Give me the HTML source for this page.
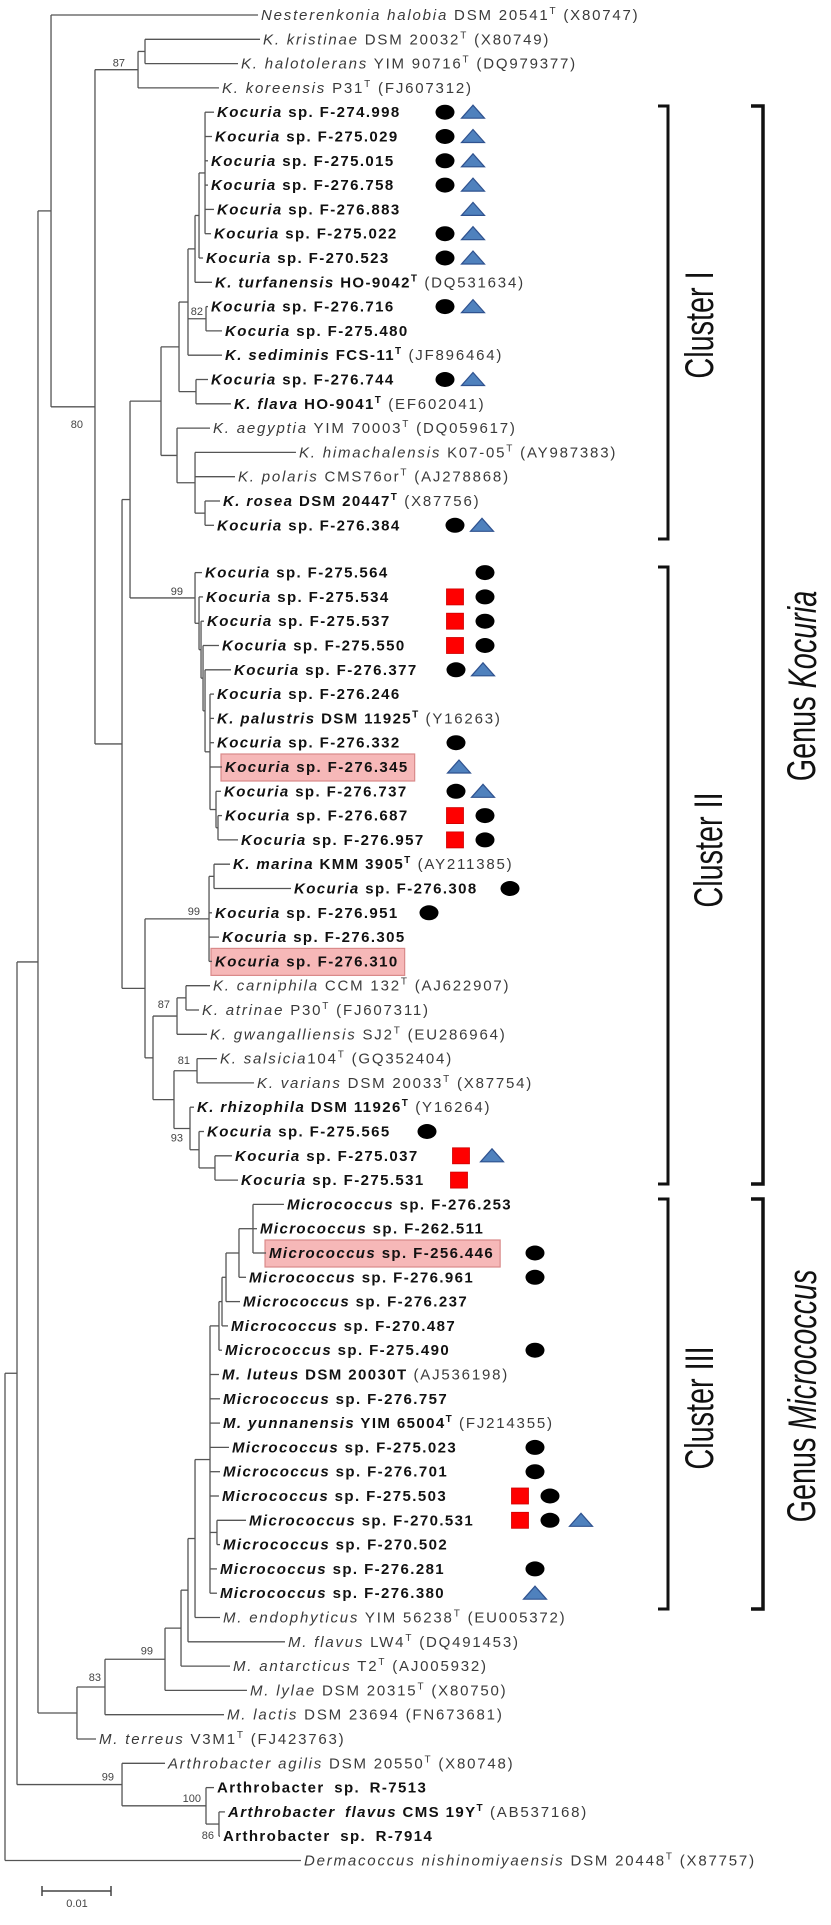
<!DOCTYPE html>
<html><head><meta charset="utf-8"><title>Phylogenetic tree</title>
<style>
html,body{margin:0;padding:0;background:#fff;}
svg{display:block;font-family:"Liberation Sans",Arial,sans-serif;}
.lf{font-size:15px;letter-spacing:1.4px;}
.b{font-weight:bold;fill:#111;}
.r{font-weight:normal;fill:#3a3a3a;letter-spacing:1.8px;}
.bs{font-size:11px;fill:#444;}
.br{stroke:#555;stroke-width:1.3;fill:none;}
</style></head>
<body>
<svg id="tree" xmlns="http://www.w3.org/2000/svg" width="831" height="1925" viewBox="0 0 831 1925">
<rect width="831" height="1925" fill="#fff"/>
<g id="boxes"></g><g id="branches"></g><g id="labels"></g><g id="marks"></g>
<g fill="none" stroke="#111">
 <path d="M658 106 H668 V539 H658" stroke-width="3"/>
 <path d="M658 567 H668 V1184 H658" stroke-width="3"/>
 <path d="M658 1199 H668 V1609 H658" stroke-width="3"/>
 <path d="M751 106 H763 V1184 H751" stroke-width="3.5"/>
 <path d="M751 1199 H763 V1609 H751" stroke-width="3.5"/>
</g>
<g fill="#111" font-size="40">
 <text transform="translate(700,325) rotate(-90) scale(0.72,1)" text-anchor="middle" dominant-baseline="central">Cluster I</text>
 <text transform="translate(709,850) rotate(-90) scale(0.72,1)" text-anchor="middle" dominant-baseline="central">Cluster II</text>
 <text transform="translate(700,1408) rotate(-90) scale(0.72,1)" text-anchor="middle" dominant-baseline="central">Cluster III</text>
 <text transform="translate(802,686) rotate(-90) scale(0.72,1)" text-anchor="middle" dominant-baseline="central">Genus <tspan font-style="italic">Kocuria</tspan></text>
 <text transform="translate(802,1396) rotate(-90) scale(0.72,1)" text-anchor="middle" dominant-baseline="central">Genus <tspan font-style="italic">Micrococcus</tspan></text>
</g>
<g>
 <path d="M42 1891 H111 M42 1886 V1896 M111 1886 V1896" stroke="#444" stroke-width="1.5" fill="none"/>
 <text x="77" y="1907" font-size="11" fill="#444" text-anchor="middle">0.01</text>
</g>
</svg>
<script>
// branch depths in units of 0.001 substitutions/site
const SCALE_UNIT = 10;           // scale bar value 0.01 = 10 units
const leaves = [];
function N(d, kids, bs, o){ return {d:d, kids:kids, bs:bs||null, o:o||{}}; }
function L(t, acc, bold, d, marks, hl){ const l={d:d,t:t,acc:acc,bold:bold,marks:marks||[],hl:hl||0}; return l; }
function k(id,d,m,hl){ return L("*Kocuria* sp. F-"+id,"",1,d,m,hl); }
function m(id,d,mk,hl){ return L("*Micrococcus* sp. F-"+id,"",1,d,mk,hl); }
const CT=[['C',445],['T',473]], CT2=[['C',456],['T',483]], SC2=[['S',455],['C',485]], MC=[['C',535]];

const clusterI = N(22.61,[
  N(25.22,[
    N(26.52,[
      N(27.54,[
        N(28.12,[
          N(28.99,[k("274.998",30.29,CT),k("275.029",30.0,CT),k("275.015",29.42,CT),k("276.758",29.42,CT),k("276.883",30.29,[['T',473]]),k("275.022",29.86,CT)]),
          k("270.523",28.7,CT)
        ]),
        L("*K. turfanensis* HO-9042^T","(DQ531634)",1,30.0)
      ]),
      N(29.13,[k("276.716",29.42,CT),k("275.480",31.45)],"82"),
      L("*K. sediminis* FCS-11^T","(JF896464)",1,31.45)
    ]),
    N(27.68,[k("276.744",29.42,CT), L("*K. flava* HO-9041^T","(EF602041)",1,32.75)])
  ]),
  N(24.93,[
    L("*K. aegyptia* YIM 70003^T","(DQ059617)",0,29.71),
    N(27.54,[
      L("*K. himachalensis* K07-05^T","(AY987383)",0,42.17),
      L("*K. polaris* CMS76or^T","(AJ278868)",0,33.33),
      N(28.99,[L("*K. rosea* DSM 20447^T","(X87756)",1,31.16), k("276.384",30.29,[['C',455],['T',482]])])
    ])
  ])
]);
const clusterIIa = N(27.54,[k("275.564",28.55,[['C',485]]),
  N(28.12,[k("275.534",28.7,SC2), N(28.41,[k("275.537",28.84,SC2), N(28.7,[k("275.550",31.01,SC2), N(28.99,[k("276.377",32.75,CT2),
    N(29.71,[k("276.246",30.29), L("*K. palustris* DSM 11925^T","(Y16263)",1,30.29), k("276.332",30.29,[['C',456]]), k("276.345",31.45,[['T',459]],1),
      N(30.58,[k("276.737",31.3,CT2), N(30.87,[k("276.687",31.45,SC2), k("276.957",33.77,SC2)])])])])])])])],"99",{ex:-12,ey:-3});
const clusterIIb = N(20.29,[
  N(29.57,[N(30.29,[L("*K. marina* KMM 3905^T","(AY211385)",1,32.61), k("276.308",41.45,[['C',510]])]), k("276.951",30.0,[['C',429]]), k("276.305",31.01), k("276.310",30.0,null,1)],"99",{ex:-9}),
  N(21.45,[
    N(24.93,[N(26.23,[L("*K. carniphila* CCM 132^T","(AJ622907)",0,29.71), L("*K. atrinae* P30^T","(FJ607311)",0,28.12)]), L("*K. gwangalliensis* SJ2^T","(EU286964)",0,29.28)],"87",{ex:-7,ey:-8}),
    N(24.49,[
      N(27.83,[L("*K. salsicia*104^T","(GQ352404)",0,30.72), L("*K. varians* DSM 20033^T","(X87754)",0,36.09)],"81",{ex:-7,ey:-7}),
      N(26.81,[L("*K. rhizophila* DSM 11926^T","(Y16264)",1,27.39), N(28.12,[k("275.565",28.84,[['C',427]]), N(30.43,[k("275.037",32.9,[['S',461],['T',492]]), k("275.531",33.77,[['S',459]])])])],"93",{ex:-7,ey:13})
    ])
  ])
]);
const clusterIII = N(29.71,[
  N(31.01,[N(31.45,[N(32.03,[N(33.91,[N(35.94,[m("276.253",40.43), m("262.511",36.52), m("256.446",37.83,MC,1)]), m("276.961",34.93,MC)]), m("276.237",34.06)]), m("270.487",32.32)]), m("275.490",31.45,MC)]),
  L("*M. luteus* DSM 20030T","(AJ536198)",1,31.01),
  m("276.757",31.16),
  L("*M. yunnanensis* YIM 65004^T","(FJ214355)",1,31.16),
  m("275.023",32.46,MC), m("276.701",31.16,MC), m("275.503",31.01,[['S',520],['C',550]]),
  N(30.72,[m("270.531",34.93,[['S',520],['C',550],['T',581]]), m("270.502",31.16)]),
  m("276.281",30.72,MC), m("276.380",30.72,[['T',535]])
]);
const micro = N(10.43,[N(14.49,[N(23.19,[N(25.51,[N(26.52,[N(27.54,[clusterIII, L("*M. endophyticus* YIM 56238^T","(EU005372)",0,31.16)]), L("*M. flavus* LW4^T","(DQ491453)",0,40.58)]), L("*M. antarcticus* T2^T","(AJ005932)",0,32.61)]), L("*M. lylae* DSM 20315^T","(X80750)",0,35.07)],"99",{ex:-12,ey:-5}), L("*M. lactis* DSM 23694","(FN673681)",0,31.74)],"83",{ex:-4,ey:-6}), L("*M. terreus* V3M1^T","(FJ423763)",0,13.19)]);
const arthro = N(16.96,[L("*Arthrobacter agilis* DSM 20550^T","(X80748)",0,23.19),
  N(29.13,[L("Arthrobacter sp. R-7513","",1,30.29), N(31.01,[L("*Arthrobacter flavus* CMS 19Y^T","(AB537168)",1,31.88), L("Arthrobacter sp. R-7914","",1,31.16)],"86",{ex:-5,ey:15})],"100",{ex:-5}),
],"99",{ex:-8});
const tree = N(0,[
  N(1.74,[
    N(4.78,[
      N(6.67,[
        L("*Nesterenkonia halobia* DSM 20541^T","(X80747)",0,36.67),
        N(13.04,[
          N(19.28,[N(20.29,[L("*K. kristinae* DSM 20032^T","(X80749)",0,36.96), L("*K. halotolerans* YIM 90716^T","(DQ979377)",0,33.77)]), L("*K. koreensis* P31^T","(FJ607312)",0,31.01)],"87",{ex:-13,ey:-3}),
          N(16.96,[N(18.12,[clusterI, clusterIIa]), clusterIIb])
        ],"80",{ex:-12,ey:21})
      ]),
      micro
    ]),
    arthro
  ]),
  L("*Dermacoccus nishinomiyaensis* DSM 20448^T","(X87757)",0,42.9)
]);

const X0=5, PX_PER_UNIT=6.9;
function xS(d){ return X0 + d*PX_PER_UNIT; }
function rowY(i){ return 15 + i*24.3 + (i>=22?23:0); }
const NS="http://www.w3.org/2000/svg";
function el(tag, attrs, parent){ const e=document.createElementNS(NS,tag); for(const a in attrs) e.setAttribute(a,attrs[a]); parent.appendChild(e); return e; }
const gB=document.getElementById('branches'), gL=document.getElementById('labels'), gM=document.getElementById('marks'), gX=document.getElementById('boxes');
let row=0;
function layout(n){
  if(!n.kids){ n.y=rowY(row++); return n.y; }
  n.kids.forEach(layout);
  n.y=(n.kids[0].y+n.kids[n.kids.length-1].y)/2; return n.y;
}
layout(tree);
function addText(parent, str, cls){
  const parts=str.split('*');
  parts.forEach((p,pi)=>{
    const sub=p.split('^T');
    sub.forEach((s,si)=>{
      if(s){ const t=el('tspan',{class:cls},parent); if(pi%2===1) t.setAttribute('font-style','italic'); if(/Micrococcus|Arthrobacter/.test(s)&&cls==='b') t.setAttribute('word-spacing','4'); t.textContent=s; }
      if(si<sub.length-1){ const t=el('tspan',{class:cls,'font-size':'10','dy':'-6'},parent); t.textContent='T'; const z=el('tspan',{class:cls,'dy':'6'},parent); z.textContent='\u200b'; }
    });
  });
}
function draw(n, px){
  const x=xS(n.d);
  if(px!==null){
    const h=el('line',{x1:px,y1:n.y,x2:x,y2:n.y,class:'br'},gB);
    
    
  }
  if(n.kids){
    const v=el('line',{x1:x,y1:n.kids[0].y,x2:x,y2:n.kids[n.kids.length-1].y,class:'br'},gB);
    
    
    if(n.bs){
      const ex=n.o.ex!==undefined?n.o.ex:-3, ey=n.o.ey!==undefined?n.o.ey:-4;
      const t=el('text',{x:x+ex,y:n.y+ey,class:'bs','text-anchor':'end'},gL);
      
      
      t.textContent=n.bs;
    }
    n.kids.forEach(c=>draw(c,x));
  } else {
    const t=el('text',{x:x+3,y:n.y+5,class:'lf'},gL);
    
    
    addText(t,n.t,n.bold?'b':'r');
    if(n.acc){ const a=el('tspan',{class:'r'},t); a.textContent='  '+n.acc; a.setAttribute('xml:space','preserve'); }
    if(n.hl){
      const bb=t.getBBox();
      const r=el('rect',{x:bb.x-4,y:n.y-13,width:bb.width+10,height:27,fill:'#f6b8b8',stroke:'#d98a8a','stroke-width':'1.2'},gX);
      
      
    }
    n.marks.forEach(mk=>{
      const [type,mx]=mk; let s;
      if(type==='C'){ s=el('ellipse',{cx:mx,cy:n.y,rx:9.5,ry:7.5,fill:'#000'},gM);  }
      else if(type==='T'){ s=el('polygon',{points:(mx-11.5)+','+(n.y+6)+' '+(mx+11.5)+','+(n.y+6)+' '+mx+','+(n.y-7),fill:'#4f81bd',stroke:'#2f528f','stroke-width':'1.2'},gM);  }
      else { s=el('rect',{x:mx-8.5,y:n.y-8,width:17,height:16,fill:'#f00',stroke:'#c00','stroke-width':'0.8'},gM);  }
      
    });
  }
}
draw(tree,null);
</script>
</body></html>
